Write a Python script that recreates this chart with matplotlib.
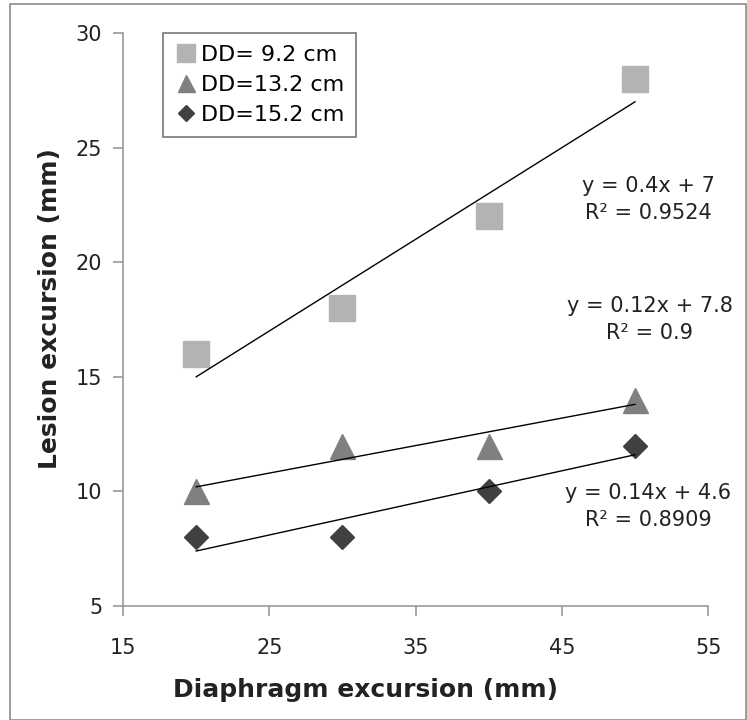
import numpy as np
import matplotlib
matplotlib.use('Agg')
import matplotlib.pyplot as plt
from matplotlib.patches import Rectangle

# data
x = [20, 30, 40, 50]
dd92 = [16, 18, 22, 28]
dd132 = [10, 12, 12, 14]
dd152 = [8, 8, 10, 12]
labels = ['DD= 9.2 cm', 'DD=13.2 cm', 'DD=15.2 cm']
eqs = ['y = 0.4x + 7\nR² = 0.9524', 'y = 0.12x + 7.8\nR² = 0.9', 'y = 0.14x + 4.6\nR² = 0.8909']

fig = plt.figure(figsize=(7.47, 7.2), dpi=100)
ax = fig.add_axes([0.1647, 0.1583, 0.7833, 0.7958])

fig.patches.append(Rectangle((0.013, 0.0), 0.985, 0.994, transform=fig.transFigure,
                             fill=False, edgecolor='#8c8c8c', lw=1.2))

series = [(dd92, 's', '#b3b3b3', 19), (dd132, '^', '#808080', 18), (dd152, 'D', '#404040', 12)]
for (y, m, c, ms), lab in zip(series, labels):
    ax.plot(x, y, linestyle='none', marker=m, color=c, markersize=ms, label=lab)
    k, b = np.polyfit(x, y, 1)
    xs = np.array([x[0], x[-1]])
    ax.plot(xs, k * xs + b, color='black', lw=1)

tkw = dict(ha='center', va='center', fontsize=15, linespacing=1.45, color='#222222')
ax.text(50.9, 22.75, eqs[0], **tkw)
ax.text(51.0, 17.5, eqs[1], **tkw)
ax.text(50.9, 9.35, eqs[2], **tkw)

ax.set_xlim(15, 55)
ax.set_ylim(5, 30)
ax.set_xticks([15, 25, 35, 45, 55])
ax.set_yticks([5, 10, 15, 20, 25, 30])
for s in ['top', 'right']:
    ax.spines[s].set_visible(False)
for s in ['left', 'bottom']:
    ax.spines[s].set_color('#999999')
    ax.spines[s].set_linewidth(1.2)
ax.tick_params(colors='#999999', length=7, width=1.2, labelcolor='#222222', labelsize=15)
ax.tick_params(axis='x', pad=16)
ax.tick_params(axis='y', pad=8)

ax.set_xlabel('Diaphragm excursion (mm)', fontsize=18, fontweight='bold', color='#222222')
ax.xaxis.set_label_coords(0.415, -0.125)
ax.set_ylabel('Lesion excursion (mm)', fontsize=18, fontweight='bold', color='#222222')
ax.yaxis.set_label_coords(-0.105, 0.52)

leg = ax.legend(loc='upper left', bbox_to_anchor=(0.068, 1.0), fontsize=16, handletextpad=0.15,
                handlelength=1.0, borderpad=0.55, labelspacing=0.45, fancybox=False,
                edgecolor='#555555', markerscale=0.68, borderaxespad=0)
leg.get_frame().set_linewidth(1.2)

plt.savefig('out.png', dpi=100)
